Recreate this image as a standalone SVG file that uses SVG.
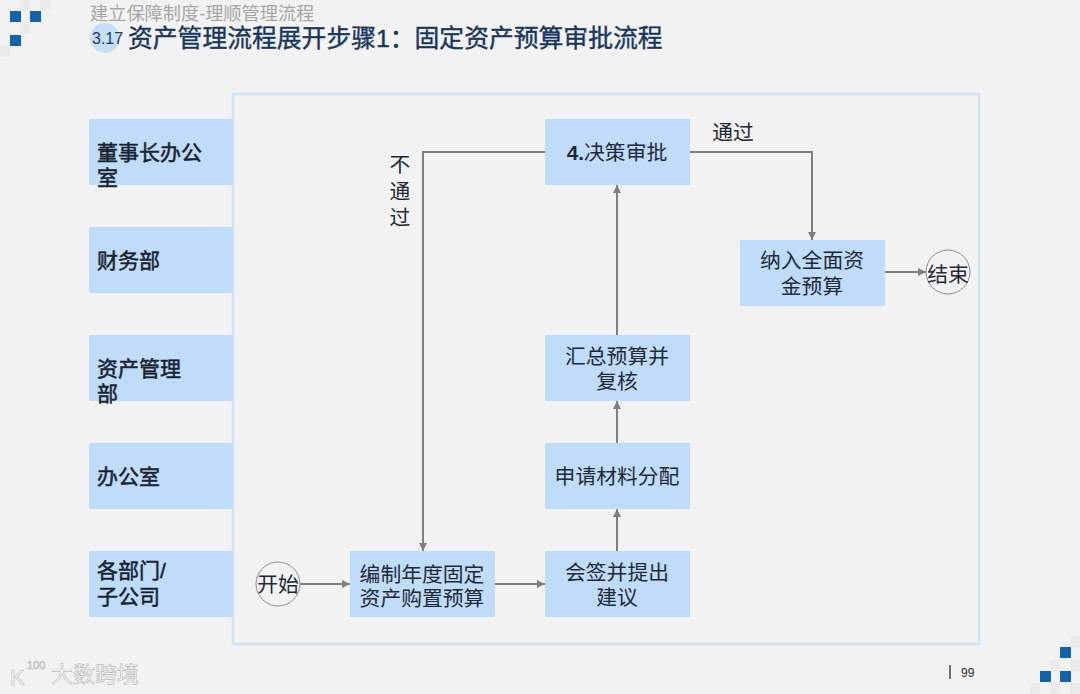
<svg xmlns="http://www.w3.org/2000/svg" width="1080" height="694" viewBox="0 0 1080 694">
<style>
text{font-family:"Liberation Sans","Noto Sans CJK SC",sans-serif;fill:#1f2a36}
.n{fill:#bfdcfa}
.t{font-size:20.800px;text-anchor:middle}
.l{font-size:21px;fill:#17222e;stroke:#17222e;stroke-width:.5}
.c{stroke:#7f7f7f;stroke-width:2;fill:none;marker-end:url(#a)}
.o{fill:#f2f2f2;stroke:#8c8c8c;stroke-width:1}
.s{fill:#1464ab}
.g{fill:#eaeaea}
.w{fill:#fff;stroke:#bdbdbd;stroke-width:.7}
</style>
<defs><marker id="a" markerUnits="userSpaceOnUse" markerWidth="10" markerHeight="10" refX="8" refY="4" orient="auto"><path d="M0 0L8 4L0 8Z" fill="#7f7f7f"/></marker></defs>
<rect width="1080" height="694" fill="#f2f2f2"/>
<g id="deco">
<rect class="g" x="20" y="0" width="10" height="11"/><rect class="g" x="40" y="0" width="11" height="10"/><rect class="g" x="20" y="22" width="10" height="12"/><rect class="g" x="0" y="46" width="10" height="11"/>
<rect class="s" x="10" y="11" width="11" height="11"/><rect class="s" x="30" y="11" width="11" height="11"/><rect class="s" x="10" y="35" width="11" height="11"/>
<rect class="g" x="1070" y="636" width="10" height="11"/><rect class="g" x="1050" y="660" width="10" height="11"/><rect class="g" x="1070" y="660" width="10" height="11"/><rect class="g" x="1030" y="683" width="10" height="11"/><rect class="g" x="1050" y="683" width="10" height="11"/><rect class="g" x="1070" y="683" width="10" height="11"/>
<rect class="s" x="1060" y="647" width="11" height="11"/><rect class="s" x="1040" y="671" width="11" height="11"/><rect class="s" x="1060" y="671" width="11" height="11"/>
<circle cx="105" cy="38" r="15" fill="#c5dff8"/>
</g>
<text x="90" y="20" font-size="18.200" style="fill:#a6a6a6">建立保障制度-理顺管理流程</text>
<text x="92" y="44" font-size="16" style="fill:#1f3a5f">3.17</text>
<text x="128" y="47" font-size="24.800" style="fill:#17375e;stroke:#17375e;stroke-width:.4">资产管理流程展开步骤1：固定资产预算审批流程</text>
<rect id="frame" x="233" y="94" width="746" height="550" fill="#f2f2f2" stroke="#cfe2f7" stroke-width="2.500"/>
<g id="dept1"><rect class="n" x="89" y="119" width="144" height="66"/><text class="l" x="97" y="160">董事长办公</text><text class="l" x="97" y="185">室</text></g>
<g id="dept2"><rect class="n" x="89" y="227" width="144" height="66"/><text class="l" x="97" y="268">财务部</text></g>
<g id="dept3"><rect class="n" x="89" y="335" width="144" height="66"/><text class="l" x="97" y="376">资产管理</text><text class="l" x="97" y="401">部</text></g>
<g id="dept4"><rect class="n" x="89" y="443" width="144" height="66"/><text class="l" x="97" y="484">办公室</text></g>
<g id="dept5"><rect class="n" x="89" y="551" width="144" height="66"/><text class="l" x="97" y="578">各部门/</text><text class="l" x="97" y="604">子公司</text></g>
<g id="connectors">
<path class="c" d="M300 584H350"/>
<path class="c" d="M495 584H545"/>
<path class="c" d="M617 551V509"/>
<path class="c" d="M617 443V401"/>
<path class="c" d="M617 335V185"/>
<path class="c" d="M545 152H423V551"/>
<path class="c" d="M690 152H812V240"/>
<path class="c" d="M885 272H926"/>
</g>
<g id="start"><circle class="o" cx="278" cy="584" r="22"/><text class="t" x="278" y="592">开始</text></g>
<g id="budget"><rect class="n" x="350" y="551" width="145" height="66"/><text class="t" x="422" y="582">编制年度固定</text><text class="t" x="422" y="606">资产购置预算</text></g>
<g id="sign"><rect class="n" x="545" y="551" width="145" height="66"/><text class="t" x="617" y="580">会签并提出</text><text class="t" x="617" y="605">建议</text></g>
<g id="alloc"><rect class="n" x="545" y="443" width="145" height="66"/><text class="t" x="617" y="484">申请材料分配</text></g>
<g id="review"><rect class="n" x="545" y="335" width="145" height="66"/><text class="t" x="617" y="364">汇总预算并</text><text class="t" x="617" y="389">复核</text></g>
<g id="decision"><rect class="n" x="545" y="119" width="145" height="66"/><text class="t" x="617" y="160" style="font-weight:bold">4.<tspan style="font-weight:normal">决策审批</tspan></text></g>
<g id="include"><rect class="n" x="740" y="240" width="145" height="66"/><text class="t" x="812" y="268">纳入全面资</text><text class="t" x="812" y="294">金预算</text></g>
<g id="end"><circle class="o" cx="948" cy="272" r="22"/><text class="t" x="948" y="282">结束</text></g>
<text class="t" x="733" y="140">通过</text>
<text class="t" x="400" y="172">不</text><text class="t" x="400" y="199">通</text><text class="t" x="400" y="225">过</text>
<g id="watermark">
<text class="w" x="51" y="682" font-size="22">大数跨境</text>
<text class="w" x="10" y="685" font-size="22">K</text>
<text class="w" x="27" y="669" font-size="11">100</text>
</g>
<path d="M950 665V679" stroke="#444" stroke-width="1.500"/>
<text x="961" y="677" font-size="12">99</text>
</svg>
